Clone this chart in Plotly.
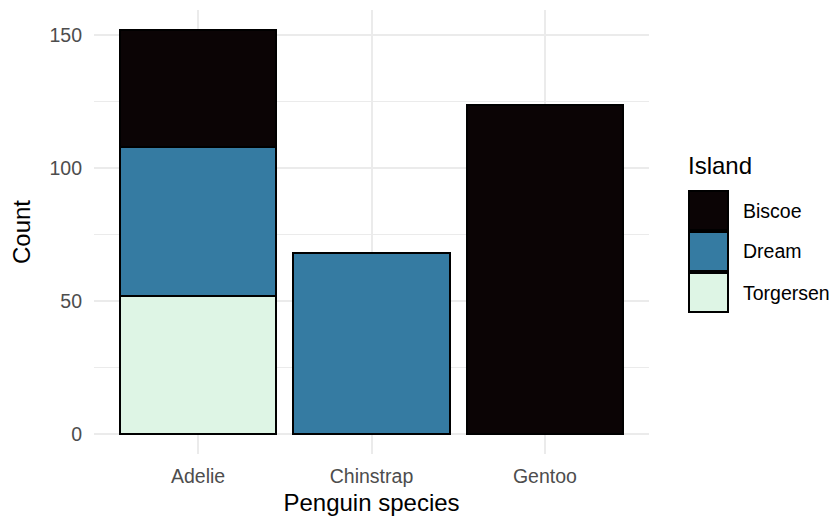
import plotly.graph_objects as go

# Penguin counts by species and island
species = ["Adelie", "Chinstrap", "Gentoo"]
islands = ["Biscoe", "Dream", "Torgersen"]
biscoe = [44, None, 124]
dream = [56, 68, None]
torgersen = [52, None, None]
island_colors = ["#0B0405", "#357BA2", "#DEF5E5"]
y_ticks = [0, 50, 100, 150]

counts = {"Biscoe": biscoe, "Dream": dream, "Torgersen": torgersen}
color_of = dict(zip(islands, island_colors))

FONT = "Liberation Sans, Arial, sans-serif"
GRID = "#EBEBEB"
TICK_GRAY = "#4D4D4D"

fig = go.Figure()

# stacked bars: first island level sits on top of the stack
for isl in reversed(islands):
    fig.add_trace(go.Bar(
        x=species,
        y=counts[isl],
        name=isl,
        marker=dict(color=color_of[isl], line=dict(color="black", width=2)),
        width=0.9,
        showlegend=False,
    ))

total_max = max(sum(v or 0 for v in col) for col in zip(biscoe, dream, torgersen))
pad = total_max * 0.05

fig.update_layout(
    width=840,
    height=516,
    barmode="stack",
    plot_bgcolor="white",
    paper_bgcolor="white",
    margin=dict(l=94, r=191, t=10, b=62),
    font=dict(family=FONT, color="black"),
    xaxis=dict(
        range=[-0.6, 2.6],
        automargin=False,
        showgrid=True,
        gridcolor=GRID,
        gridwidth=1.5,
        zeroline=False,
        showline=False,
        ticks="",
        ticklabelstandoff=8,
        tickfont=dict(size=19.5, color=TICK_GRAY, family=FONT),
        title=dict(text="Penguin species", font=dict(size=24, color="black", family=FONT), standoff=9),
    ),
    yaxis=dict(
        range=[-pad, total_max + pad],
        automargin=False,
        tickvals=y_ticks,
        showgrid=True,
        gridcolor=GRID,
        gridwidth=1.5,
        minor=dict(dtick=25, showgrid=True, gridcolor=GRID, gridwidth=0.8),
        zeroline=False,
        showline=False,
        ticks="",
        ticklabelstandoff=11,
        tickfont=dict(size=19.5, color=TICK_GRAY, family=FONT),
        title=dict(text="Count", font=dict(size=24, color="black", family=FONT), standoff=12),
    ),
)

# legend drawn as keyed boxes to the right of the panel
W, H = 840, 516
plot_l, plot_r, plot_t, plot_b = 94, 840 - 191, 10, 516 - 62


def px_to_paper_x(px):
    return (px - plot_l) / (plot_r - plot_l)


def px_to_paper_y(py):
    return (plot_b - py) / (plot_b - plot_t)


key_x0, key_x1 = 688, 729
key_top, key_h = 190, 41
shapes = []
annotations = [dict(
    text="Island", x=px_to_paper_x(key_x0 - 2), y=px_to_paper_y(165),
    xref="paper", yref="paper", xanchor="left", yanchor="middle", showarrow=False,
    font=dict(size=24, color="black", family=FONT),
)]

for i, isl in enumerate(islands):
    y0 = key_top + i * key_h
    y1 = y0 + key_h
    shapes.append(dict(
        type="rect", xref="paper", yref="paper",
        x0=px_to_paper_x(key_x0 + 1), x1=px_to_paper_x(key_x1 - 1),
        y0=px_to_paper_y(y1 - 1), y1=px_to_paper_y(y0 + 1),
        fillcolor=color_of[isl], line=dict(color="black", width=2),
    ))
    annotations.append(dict(
        text=isl, x=px_to_paper_x(741), y=px_to_paper_y((y0 + y1) / 2),
        xref="paper", yref="paper", xanchor="left", yanchor="middle",
        showarrow=False, font=dict(size=19.5, color="black", family=FONT),
    ))

fig.update_layout(shapes=shapes, annotations=annotations)

fig.write_html("out.html")
